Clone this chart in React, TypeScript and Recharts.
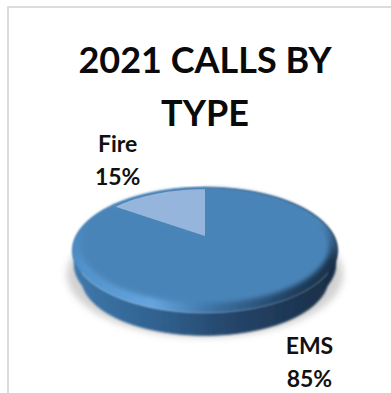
import React from "react";
import { PieChart, Pie, Cell } from "recharts";

const categories = ["EMS", "Fire"];
const shares = [85, 15];
const titleLines = ["2021 CALLS BY", "TYPE"];

const rows = categories.map((name, i) => ({ name, value: shares[i] }));

const FONT = "Lato, 'Open Sans', sans-serif";
const RAD = Math.PI / 180;
const FACE_BLUE = "#4a84b8";

// Tilted disc: perspective parameters for the outer rim, the inset top face,
// and the two lower contours that round off the disc's side wall.
const RIM = { b: 128.4, a: 59, k: 0.2316 };
const FACE = { b: 122, a: 55, k: 0.175 };
const WALL_MID = { b: 127, a: 58, k: 0.2316 };
const WALL_LOW = { b: 120, a: 54, k: 0.2316 };
const WALL_MID_DROP = 14;
const WALL_LOW_DROP = 29;

type Disc = typeof RIM;

function project(cx: number, cy: number, angle: number, d: Disc, dy = 0) {
  const u = Math.cos(angle * RAD);
  const v = -Math.sin(angle * RAD);
  const w = 1 - d.k * v;
  return [cx + (d.b * u) / w, cy + (d.a * v) / w + dy];
}

function arcPoints(cx: number, cy: number, from: number, to: number, d: Disc, dy = 0) {
  const n = Math.max(2, Math.ceil(Math.abs(to - from) / 2));
  const out: number[][] = [];
  for (let i = 0; i <= n; i++) out.push(project(cx, cy, from + ((to - from) * i) / n, d, dy));
  return out;
}

const toPath = (pts: number[][]) =>
  "M" + pts.map((p) => `${p[0].toFixed(2)},${p[1].toFixed(2)}`).join("L") + "Z";

const wedge = (p: any, d: Disc, dy = 0) =>
  toPath([[p.cx, p.cy + dy], ...arcPoints(p.cx, p.cy, p.startAngle, p.endAngle, d, dy)]);

const ShadowShape = (p: any) => (
  <path d={wedge(p, { ...RIM, b: 134 }, 24)} fill="#d2d2d2" stroke="#d2d2d2" filter="url(#soft)" />
);

const SideShape = (p: any) => {
  const top = arcPoints(p.cx, p.cy, p.startAngle, p.endAngle, RIM);
  const mid = arcPoints(p.cx, p.cy, p.startAngle, p.endAngle, WALL_MID, WALL_MID_DROP);
  const low = arcPoints(p.cx, p.cy, p.startAngle, p.endAngle, WALL_LOW, WALL_LOW_DROP);
  return (
    <g filter="url(#softEdge)">
      <path d={toPath([...mid, ...low.slice().reverse()])} fill="url(#sideFill)" stroke="url(#sideFill)" />
      <path d={toPath([...top, ...mid.slice().reverse()])} fill="url(#sideFill)" stroke="url(#sideFill)" />
    </g>
  );
};

const BevelShape = (p: any) => (
  <g filter="url(#softRim)">
    <path d={wedge(p, RIM)} fill="url(#bevelFill)" stroke="url(#bevelFill)" />
    <path d={wedge(p, RIM)} fill="url(#bevelFade)" />
  </g>
);

// The inner face melts into the rim, so it is drawn blurred in one colour.
const SoftFaceShape = (p: any) => <path d={wedge(p, FACE)} fill={FACE_BLUE} stroke={FACE_BLUE} filter="url(#softFace)" />;

const FaceShape = (p: any) => <path d={wedge(p, FACE)} fill={p.fill} />;

// Data labels sit a fixed distance from the rim point at each slice's mid angle.
const labelNudge: Record<string, number[]> = { EMS: [31, 52], Fire: [-39, -40] };

const SliceLabel = (p: any) => {
  const [x, y] = project(p.cx, p.cy, p.midAngle, RIM, 0);
  const [dx, dy] = labelNudge[p.name] ?? [0, 0];
  return (
    <text x={x + dx} y={y + dy} textAnchor="middle" fontFamily={FONT} fontWeight={700} fontSize={23} fill="#111">
      <tspan x={x + dx}>{p.name}</tspan>
      <tspan x={x + dx} dy={33}>{`${p.value}%`}</tspan>
    </text>
  );
};

const layer = { data: rows, dataKey: "value", cx: 205, cy: 236, outerRadius: 120, startAngle: 90, endAngle: -270, isAnimationActive: false, stroke: "none" } as const;

export default function App() {
  return (
    <div style={{ position: "absolute", left: 0, top: 0, width: 391, height: 393, background: "#fff" }}>
      <div style={{ position: "absolute", left: 7, top: 6, right: 0, bottom: 0, borderTop: "2px solid #dcdcdc", borderLeft: "2px solid #dcdcdc" }} />
      <PieChart width={391} height={393} margin={{ top: 0, right: 0, bottom: 0, left: 0 }} style={{ position: "absolute", left: 0, top: 0 }}>
        <defs>
          <linearGradient id="sideFill" gradientUnits="userSpaceOnUse" x1="72" y1="0" x2="337" y2="0">
            <stop offset="0" stopColor="#3f79ad" />
            <stop offset="0.35" stopColor="#2f5f8c" />
            <stop offset="0.6" stopColor="#25456a" />
            <stop offset="1" stopColor="#182d45" />
          </linearGradient>
          <linearGradient id="bevelFill" gradientUnits="userSpaceOnUse" x1="72" y1="0" x2="337" y2="0">
            <stop offset="0" stopColor="#4f8fc7" />
            <stop offset="0.3" stopColor="#66a6e0" />
            <stop offset="0.55" stopColor="#3a6f9f" />
            <stop offset="0.85" stopColor="#203d5c" />
            <stop offset="1" stopColor="#1a3149" />
          </linearGradient>
          <linearGradient id="bevelFade" gradientUnits="userSpaceOnUse" x1="0" y1="222" x2="0" y2="262">
            <stop offset="0" stopColor={FACE_BLUE} stopOpacity={1} />
            <stop offset="1" stopColor={FACE_BLUE} stopOpacity={0} />
          </linearGradient>
          <filter id="soft" x="-10%" y="-10%" width="120%" height="120%">
            <feGaussianBlur stdDeviation="3.5" />
          </filter>
          <filter id="softEdge" x="-5%" y="-10%" width="110%" height="120%">
            <feGaussianBlur stdDeviation="1.2" />
          </filter>
          <filter id="softRim" x="-5%" y="-5%" width="110%" height="110%">
            <feGaussianBlur stdDeviation="1.2" />
          </filter>
          <filter id="softFace" x="-5%" y="-5%" width="110%" height="110%">
            <feGaussianBlur stdDeviation="2.5" />
          </filter>
        </defs>
        <Pie {...layer} shape={ShadowShape} />
        <Pie {...layer} shape={SideShape} />
        <Pie {...layer} shape={BevelShape} />
        <Pie {...layer} shape={SoftFaceShape} />
        <Pie {...layer} shape={FaceShape} label={SliceLabel} labelLine={false}>
          <Cell fill="none" />
          <Cell fill="#95b5dc" />
        </Pie>
        <text textAnchor="middle" fontFamily={FONT} fontWeight={700} fontSize={36} fill="#0a0a0a">
          <tspan x={205} y={73}>{titleLines[0]}</tspan>
          <tspan x={205} y={126}>{titleLines[1]}</tspan>
        </text>
      </PieChart>
    </div>
  );
}
